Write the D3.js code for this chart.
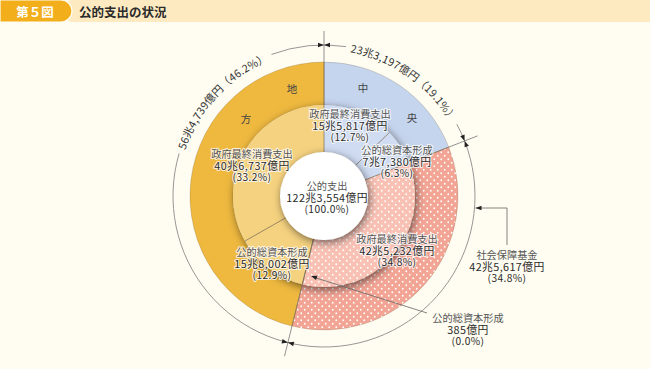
<!DOCTYPE html>
<html><head><meta charset="utf-8">
<script src="https://cdn.jsdelivr.net/npm/d3@7"></script>
<style>
html,body{margin:0;padding:0;background:#FFFDF1;}
svg{display:block;font-family:"Noto Sans CJK JP","Noto Sans",sans-serif;}
</style></head>
<body><svg id="c" width="650" height="369"></svg>
<script>
// ---- data (億円) ----
const outerCategories = ["中央", "社会保障基金", "地方"];
const outerValues = [233197, 425617, 564739];
const outerLabels = ["23兆3,197億円（19.1%）", "42兆5,617億円", "56兆4,739億円（46.2%）"];
const outerPercents = ["19.1%", "34.8%", "46.2%"];
const innerGroups = ["中央", "中央", "社会保障基金", "社会保障基金", "地方", "地方"];
const innerCategories = ["政府最終消費支出", "公的総資本形成", "政府最終消費支出", "公的総資本形成", "公的総資本形成", "政府最終消費支出"];
const innerValues = [155817, 77380, 425232, 385, 158002, 406737];
const innerValueLabels = ["15兆5,817億円", "7兆7,380億円", "42兆5,232億円", "385億円", "15兆8,002億円", "40兆6,737億円"];
const innerPercents = ["(12.7%)", "(6.3%)", "(34.8%)", "(0.0%)", "(12.9%)", "(33.2%)"];
const totalLabel = ["公的支出", "122兆3,554億円", "(100.0%)"];

const svg = d3.select("#c");
const W = 650, H = 369;
const cx = 324, cy = 196;
const R0 = 134, R1 = 91, R2 = 44, RA = 151, RT = 165;

svg.append("rect").attr("width", W).attr("height", H).attr("fill", "#FFFDF1");

// header
svg.append("rect").attr("x", 62).attr("y", 0).attr("width", 600).attr("height", 22).attr("rx", 11).attr("fill", "#FDEAC0");
svg.append("path").attr("d", "M0,0 H61 A11,11 0 0 1 61,22 H0 Z").attr("fill", "#F3AE1C").attr("stroke", "#FFFDF1").attr("stroke-width", 1.2);
svg.append("text").attr("x", 35).attr("y", 11.5).attr("dominant-baseline", "central").attr("text-anchor", "middle")
  .attr("fill", "#fff").attr("font-weight", "bold").attr("font-size", 12.5).text("第５図");
svg.append("text").attr("x", 79).attr("y", 11.5).attr("dominant-baseline", "central")
  .attr("fill", "#2b2b2b").attr("font-weight", "bold").attr("font-size", 12.5).text("公的支出の状況");

const defs = svg.append("defs");
const pat = defs.append("pattern").attr("id", "dots").attr("patternUnits", "userSpaceOnUse").attr("width", 7).attr("height", 7);
pat.append("circle").attr("cx", 1.75).attr("cy", 1.75).attr("r", 0.9).attr("fill", "#fff");
pat.append("circle").attr("cx", 5.25).attr("cy", 5.25).attr("r", 0.9).attr("fill", "#fff");
const f1 = defs.append("filter").attr("id", "sh").attr("x", "-30%").attr("y", "-30%").attr("width", "160%").attr("height", "160%");
f1.append("feDropShadow").attr("dx", 1.5).attr("dy", 2.5).attr("stdDeviation", 4.5).attr("flood-color", "#000").attr("flood-opacity", 0.55);

const outerColors = {"中央": "#C6D5EE", "社会保障基金": "#F3A595", "地方": "#EFB93F"};
const innerColors = {"中央": "#D0DCF2", "社会保障基金": "#F8C1B4", "地方": "#F5D280"};

const pie = d3.pie().sort(null).value(d => d).startAngle(0).endAngle(2 * Math.PI);
const g = svg.append("g").attr("transform", `translate(${cx},${cy})`);

// outer ring
const outerArcs = pie(outerValues);
const arcO = d3.arc().innerRadius(R1).outerRadius(R0);
g.selectAll("path.o").data(outerArcs).join("path").attr("class", "o")
  .attr("d", arcO).attr("fill", (d, i) => outerColors[outerCategories[i]])
  .attr("stroke", "rgba(90,70,40,0.35)").attr("stroke-width", 0.6);
g.selectAll("path.od").data(outerArcs.filter((d, i) => outerCategories[i] === "社会保障基金")).join("path").attr("class", "od")
  .attr("d", arcO).attr("fill", "url(#dots)");

// inner ring with shadow
const innerArcs = pie(innerValues);
const arcI = d3.arc().innerRadius(R2).outerRadius(R1);
const gi = g.append("g").attr("filter", "url(#sh)");
gi.selectAll("path.i").data(innerArcs).join("path").attr("class", "i")
  .attr("d", arcI).attr("fill", (d, i) => innerColors[innerGroups[i]]);
gi.selectAll("path.id").data(innerArcs.filter((d, i) => innerGroups[i] === "社会保障基金")).join("path").attr("class", "id")
  .attr("d", arcI).attr("fill", "url(#dots)");
g.selectAll("line.ib").data(innerArcs).join("line").attr("class", "ib")
  .attr("x1", d => R2 * Math.sin(d.startAngle)).attr("y1", d => -R2 * Math.cos(d.startAngle))
  .attr("x2", d => R1 * Math.sin(d.startAngle)).attr("y2", d => -R1 * Math.cos(d.startAngle))
  .attr("stroke", "#7d6d55").attr("stroke-width", 0.7);
g.append("circle").attr("r", R2).attr("fill", "#fff").attr("filter", "url(#sh)");

// arc texts, one glyph at a time along the annotation circle
const toRad = a => a * Math.PI / 180;
const arcTextCenters = [{i: 0, a: 35}, {i: 2, a: 313}];
const gaps = [];
arcTextCenters.forEach(o => {
  const chars = Array.from(outerLabels[o.i]);
  const widths = chars.map(ch => {
    const t = svg.append("text").attr("font-size", 10.8).text(ch);
    const w = t.node().getComputedTextLength(); t.remove(); return w;
  });
  const L = d3.sum(widths) + 0.4 * (chars.length - 1);
  const a0 = toRad(o.a) - L / 2 / RA;
  let acc = 0;
  chars.forEach((ch, k) => {
    const th = a0 + (acc + widths[k] / 2) / RA;
    acc += widths[k] + 0.4;
    svg.append("text").attr("font-size", 10.8).attr("fill", "#333").attr("text-anchor", "middle").attr("dominant-baseline", "central")
      .attr("transform", `translate(${cx + RA * Math.sin(th)},${cy - RA * Math.cos(th)}) rotate(${th * 180 / Math.PI})`).text(ch);
  });
  const half = (L / 2 + 5) / RA * 180 / Math.PI;
  gaps.push([o.a - half, o.a + half]);
});
const arcLine = (a0, a1) => { const p = d3.path(); p.arc(cx, cy, RA, toRad(a0) - Math.PI / 2, toRad(a1) - Math.PI / 2); return p.toString(); };
svg.append("path").attr("d", arcLine(gaps[0][1], gaps[1][0])).attr("fill", "none").attr("stroke", "#8a8a8a").attr("stroke-width", 0.9);
svg.append("path").attr("d", arcLine(gaps[1][1], 360 + gaps[0][0])).attr("fill", "none").attr("stroke", "#8a8a8a").attr("stroke-width", 0.9);

// dimension ticks at outer boundaries
function arrowHead(px, py, dx, dy, len, w) {
  const n = Math.hypot(dx, dy); dx /= n; dy /= n;
  const bx = px - dx * len, by = py - dy * len;
  return `M${px},${py} L${bx - dy * w},${by + dx * w} L${bx + dy * w},${by - dx * w} Z`;
}
outerArcs.forEach(d => {
  const a = d.startAngle, s = Math.sin(a), c = Math.cos(a);
  svg.append("line").attr("x1", cx + R0 * s).attr("y1", cy - R0 * c).attr("x2", cx + RT * s).attr("y2", cy - RT * c)
    .attr("stroke", "#777").attr("stroke-width", 0.8);
  const px = cx + RA * s, py = cy - RA * c;
  svg.append("path").attr("d", arrowHead(px, py, c, s, 6, 2.3)).attr("fill", "#222");
  svg.append("path").attr("d", arrowHead(px, py, -c, -s, 6, 2.3)).attr("fill", "#222");
  g.append("line").attr("x1", R1 * s).attr("y1", -R1 * c).attr("x2", R0 * s).attr("y2", -R0 * c)
    .attr("stroke", "#7d6d55").attr("stroke-width", 0.7);
});

// ring group characters
const groupChars = [["地", -32, -108], ["方", -78, -78], ["中", 39, -109], ["央", 88, -79]];
groupChars.forEach(([t, x, y]) => g.append("text").attr("x", x).attr("y", y).attr("text-anchor", "middle")
  .attr("dominant-baseline", "central").attr("font-size", 10.5).attr("fill", "#444").text(t));

// labels
function label(lines, x, y, halo) {
  const t = svg.append("text").attr("text-anchor", "middle").attr("fill", "#333");
  lines.forEach((s, k) => {
    t.append("tspan").attr("x", x).attr("y", y + k * 11.5).attr("dominant-baseline", "central")
      .attr("font-size", k === 1 ? 10.8 : 10.2).attr("letter-spacing", k === 0 ? 0 : 0.4)
      .attr("fill", k === 0 ? "#555" : "#2a2a2a").text(s);
  });
  if (halo) t.attr("stroke", "rgba(255,255,255,0.75)").attr("stroke-width", 2.2).attr("paint-order", "stroke").attr("stroke-linejoin", "round");
}
const innerLabelPos = [[350, 113], [397, 149], [397, 238], [468, 317], [272, 251], [252, 153]];
innerValues.forEach((v, i) => {
  const [x, y] = innerLabelPos[i];
  label([innerCategories[i], innerValueLabels[i], innerPercents[i]], x, y, i !== 3);
});
label(totalLabel, 327, 185, false);
label([outerCategories[1], outerLabels[1], "(" + outerPercents[1] + ")"], 507, 254, false);

// leader for 社会保障基金
const ly = 208;
const lx = cx + Math.sqrt(RA * RA - (ly - cy) * (ly - cy));
svg.append("path").attr("d", `M${lx + 1},${ly} H507 V245`).attr("fill", "none").attr("stroke", "#666").attr("stroke-width", 0.8);
svg.append("path").attr("d", arrowHead(lx + 1, ly, -1, 0, 6, 2.3)).attr("fill", "#222");
// leader for 385億円
svg.append("line").attr("x1", 427).attr("y1", 313).attr("x2", 313).attr("y2", 277).attr("stroke", "#666").attr("stroke-width", 0.8);
svg.append("path").attr("d", arrowHead(311, 276, -114, -37, 6, 2.3)).attr("fill", "#222");
</script></body></html>
